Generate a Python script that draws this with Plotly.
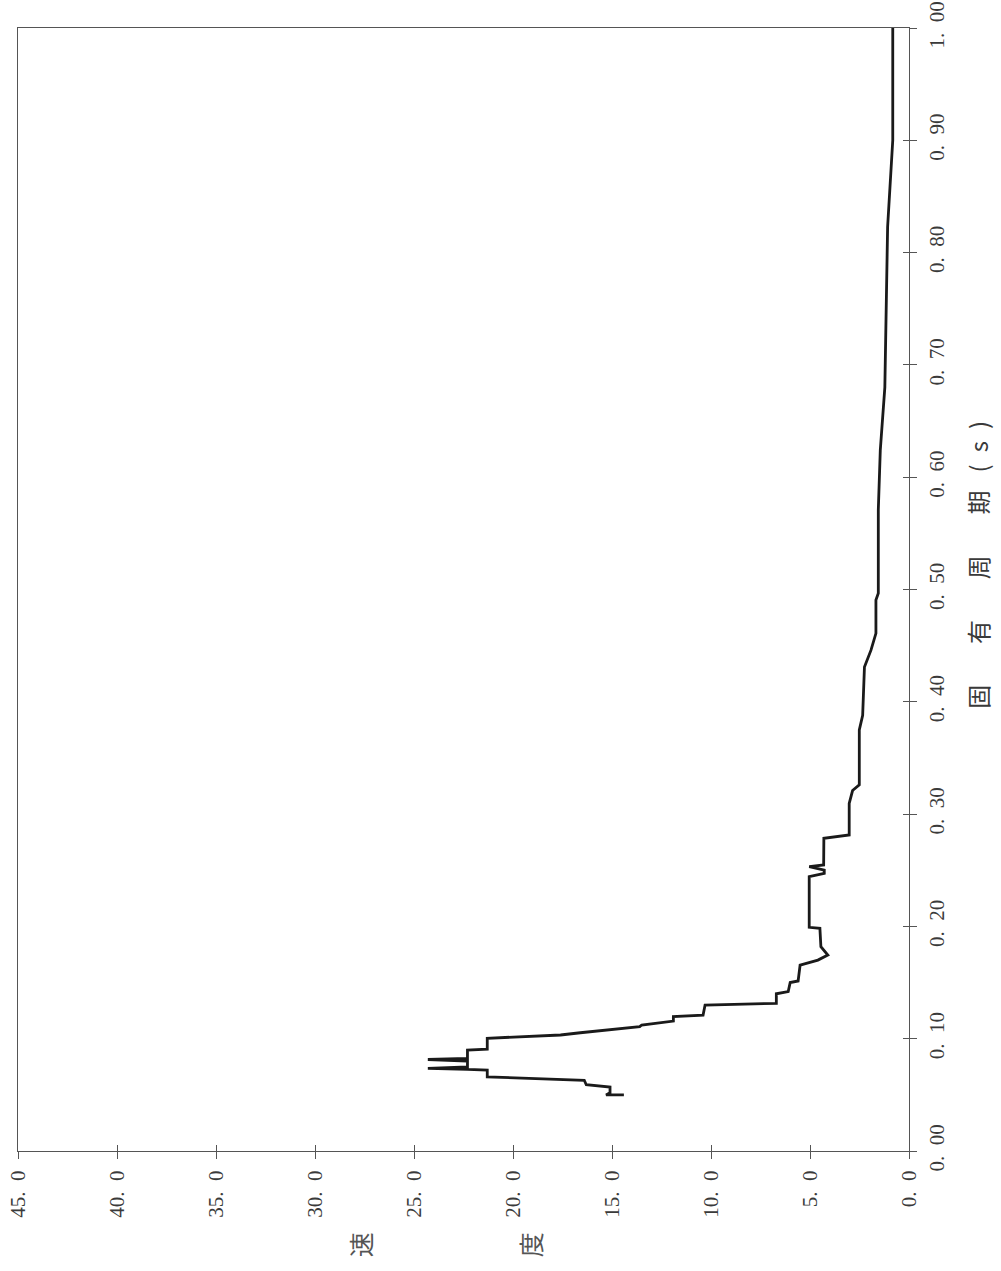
import plotly.graph_objects as go

# natural period (s) and response value
period = [0.050, 0.050, 0.052, 0.057, 0.059, 0.063, 0.066, 0.072, 0.0726, 0.0735,
          0.0748, 0.0801, 0.0815, 0.0824, 0.0899, 0.0906, 0.1004, 0.1033, 0.1053, 0.1107,
          0.1122, 0.1157, 0.1197, 0.121, 0.130, 0.1315, 0.140, 0.142, 0.150, 0.1514,
          0.1656, 0.170, 0.1745, 0.182, 0.1983, 0.1992, 0.2443, 0.2473, 0.2502, 0.2532,
          0.2547, 0.2785, 0.2814, 0.3096, 0.321, 0.326, 0.342, 0.375, 0.388, 0.431,
          0.446, 0.461, 0.4907, 0.4966, 0.571, 0.624, 0.680, 0.823, 0.900, 1.000]
value = [14.4, 15.3, 15.1, 15.1, 16.3, 16.4, 21.3, 21.3, 22.3, 24.3,
         22.3, 22.3, 24.3, 22.3, 22.3, 21.3, 21.3, 17.6, 16.6, 13.6,
         13.5, 11.9, 11.9, 10.4, 10.3, 6.7, 6.7, 6.1, 6.0, 5.6,
         5.5, 4.6, 4.1, 4.45, 4.5, 5.04, 5.04, 4.28, 4.28, 5.04,
         4.31, 4.3, 3.02, 3.02, 2.85, 2.51, 2.51, 2.51, 2.34, 2.25,
         1.92, 1.67, 1.67, 1.55, 1.55, 1.45, 1.22, 1.08, 0.82, 0.82]

value_ticks = [0, 5, 10, 15, 20, 25, 30, 35, 40, 45]
value_ticktext = ["0.\u20020", "5.\u20020", "10.\u20020", "15.\u20020", "20.\u20020",
                  "25.\u20020", "30.\u20020", "35.\u20020", "40.\u20020", "45.\u20020"]
period_ticks = [0.0, 0.1, 0.2, 0.3, 0.4, 0.5, 0.6, 0.7, 0.8, 0.9, 1.0]
period_ticktext = ["0.\u200200", "0.\u200210", "0.\u200220", "0.\u200230", "0.\u200240", "0.\u200250",
                   "0.\u200260", "0.\u200270", "0.\u200280", "0.\u200290", "1.\u200200"]

gap = "\u3000\u2002\u2009"
x_title = "固" + gap + "有" + gap + "周" + gap + "期" + "\u2002\u2005(\u2002s\u2002)"
y_title_chars = ["速", "度"]

tick_font = dict(family="Liberation Serif, DejaVu Serif, serif", size=21, color="#3a3a3a")
xtitle_font = dict(family="Noto Sans CJK JP", size=24, color="#3a3a3a")
ytitle_font = dict(family="Noto Sans CJK JP", size=25, color="#555555")
axis_col = "#555555"

fig = go.Figure()
fig.add_trace(go.Scatter(x=value, y=period, mode="lines",
                         line=dict(color="#1a1a1a", width=2.8), showlegend=False,
                         hoverinfo="skip"))
# invisible trace to host the overlay axes that draw the inner half of the ticks
fig.add_trace(go.Scatter(x=[value[0]], y=[period[0]], mode="markers", xaxis="x2", yaxis="y2",
                         marker=dict(opacity=0), showlegend=False, hoverinfo="skip"))

common = dict(showgrid=False, zeroline=False, automargin=False)
fig.update_layout(
    width=1001, height=1271,
    margin=dict(l=18, r=92, t=28, b=120),
    paper_bgcolor="white", plot_bgcolor="white",
    xaxis=dict(range=[45, 0], tickvals=value_ticks, ticktext=value_ticktext,
               tickangle=-90, ticks="outside", ticklen=7, tickcolor=axis_col,
               showline=True, linecolor=axis_col, linewidth=1, mirror=True,
               tickfont=tick_font, ticklabelstandoff=3, ticklabeloverflow="allow", **common),
    yaxis=dict(range=[0, 1], side="right", tickvals=period_ticks, ticktext=period_ticktext,
               tickangle=-90, ticks="outside", ticklen=7, tickcolor=axis_col,
               showline=True, linecolor=axis_col, linewidth=1, mirror=True,
               tickfont=tick_font, ticklabelstandoff=2, ticklabeloverflow="allow", **common),
    xaxis2=dict(range=[45, 0], overlaying="x", side="bottom", tickvals=value_ticks,
                ticks="inside", ticklen=6, tickcolor=axis_col, showticklabels=False,
                showline=False, **common),
    yaxis2=dict(range=[0, 1], overlaying="y", side="right", tickvals=period_ticks,
                ticks="inside", ticklen=6, tickcolor=axis_col, showticklabels=False,
                showline=False, **common),
)

fig.add_annotation(text=x_title, xref="paper", yref="paper", x=1.0775, y=0.522,
                   textangle=-90, showarrow=False, font=xtitle_font,
                   xanchor="center", yanchor="middle")
for ch, xp in zip(y_title_chars, [0.384, 0.575]):
    fig.add_annotation(text=ch, xref="paper", yref="paper", x=xp, y=-0.0837,
                       textangle=-90, showarrow=False, font=ytitle_font,
                       xanchor="center", yanchor="middle")

# remove the default page margin so the figure fills the window exactly
fig.write_html("out.html", config={"displayModeBar": False},
               post_script="document.body.style.margin='0';")
